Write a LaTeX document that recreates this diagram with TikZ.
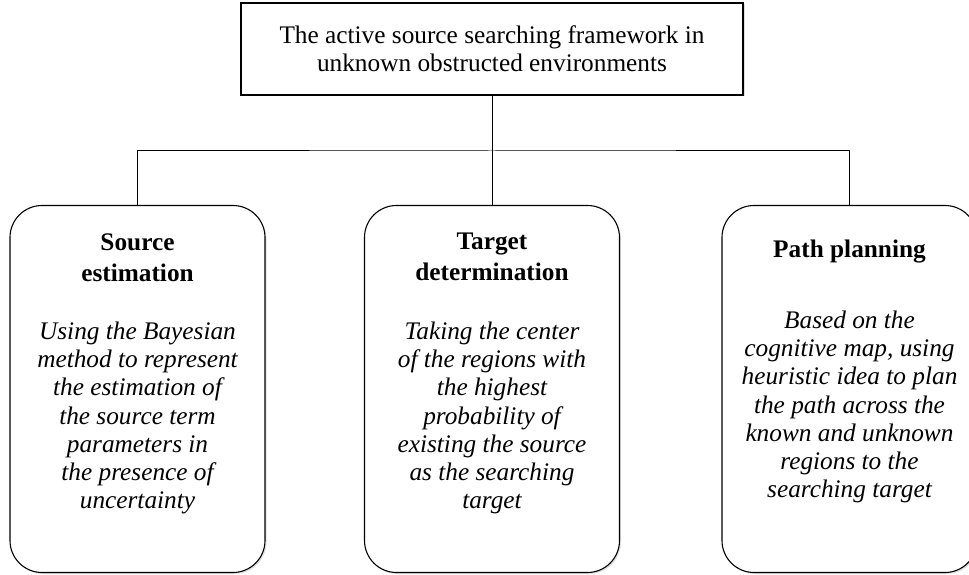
\documentclass[tikz,border=0pt]{standalone}
\usepackage{fontspec}
\setmainfont{Liberation Serif}
\usetikzlibrary{shapes, shadows}
\tikzset{>=latex}

\begin{document}
\begin{tikzpicture}[x=1pt, y=-1pt,
  boxshadow/.style={drop shadow={shadow xshift=1.5pt, shadow yshift=-1.5pt, opacity=0.25, fill=gray}},
  headbox/.style={draw, line width=1.3pt, fill=white, boxshadow, minimum width=502pt, minimum height=92pt, inner sep=0pt, align=center, font=\fontsize{25.3}{28.3}\selectfont},
  partbox/.style={draw, line width=1.1pt, fill=white, boxshadow, rounded corners=32pt, minimum width=255pt, minimum height=367pt, inner sep=0pt},
  titletext/.style={align=center, inner sep=0pt, font=\fontsize{25.3}{31}\selectfont\bfseries},
  bodytext/.style={align=center, inner sep=0pt, font=\fontsize{25.3}{28.3}\selectfont\itshape},
  link/.style={draw, line width=1pt}]
\useasboundingbox (0,0) rectangle (969,575);

% top box
\node[headbox] (frame) at (492,49) {The active source searching framework in\\unknown obstructed environments};

% the three parts
\node[partbox] (src) at (137.5,389) {};
\node[partbox] (tgt) at (492,389) {};
\node[partbox] (plan) at (849.5,389) {};

\node[titletext] (src title) at (137.5,257.5) {Source\\estimation};
\node[bodytext] (src body) at (137.5,418) {Using the Bayesian\\method to represent\\the estimation of\\the source term\\parameters in\\the presence of\\uncertainty};

\node[titletext] (tgt title) at (492,257) {Target\\determination};
\node[bodytext] (tgt body) at (492,418) {Taking the center\\of the regions with\\the highest\\probability of\\existing the source\\as the searching\\target};

\node[titletext] (plan title) at (849.5,252) {Path planning};
\node[bodytext] (plan body) at (849.5,407) {Based on the\\cognitive map, using\\heuristic idea to plan\\the path across the\\known and unknown\\regions to the\\searching target};

% connectors
\coordinate (bus) at (492,151);
\path[link] (frame.south) -- (bus);
\path[link] (src.north) |- (bus) -| (plan.north);
\path[link] (bus) -- (tgt.north);
\end{tikzpicture}
\end{document}
